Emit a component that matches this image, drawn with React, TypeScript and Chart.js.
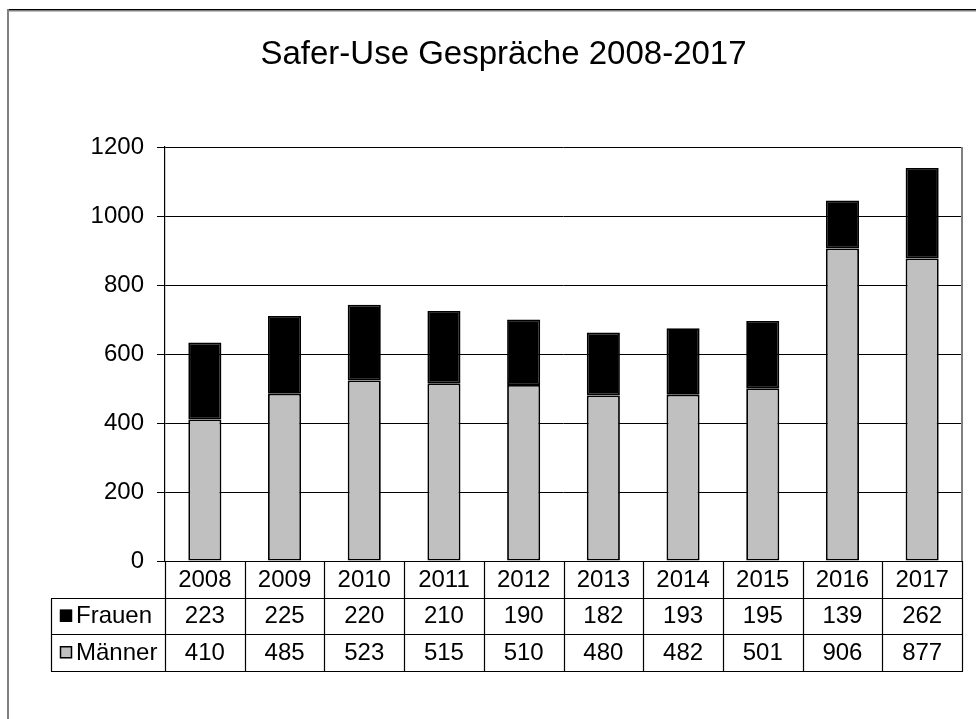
import React, { useEffect, useRef } from 'react';
import { Chart, registerables } from 'chart.js';

Chart.register(...registerables);

const titleText = 'Safer-Use Gespräche 2008-2017';
const years = ['2008', '2009', '2010', '2011', '2012', '2013', '2014', '2015', '2016', '2017'];
const frauen = [223, 225, 220, 210, 190, 182, 193, 195, 139, 262];
const maenner = [410, 485, 523, 515, 510, 480, 482, 501, 906, 877];
const seriesNames = ['Frauen', 'Männer'];
const yMin = 0;
const yMax = 1200;
const yStep = 200;

const FONT = '"Liberation Sans", Arial, Helvetica, sans-serif';
const GRAY = '#c0c0c0';

const framePlugin = {
  id: 'frame',
  beforeDraw(chart: any) {
    const { ctx, width, height } = chart;
    ctx.save();
    ctx.fillStyle = '#ffffff';
    ctx.fillRect(0, 0, width, height);
    ctx.fillStyle = '#000000';
    ctx.fillRect(7, 9, width - 7, 1.5);
    ctx.fillStyle = '#808080';
    ctx.fillRect(7, 10.5, width - 7, 1);
    ctx.fillRect(7, 9, 2, height - 9);
    ctx.restore();
  },
};

const tablePlugin = {
  id: 'dataTable',
  afterDraw(chart: any) {
    const { ctx, chartArea } = chart;
    const left = chartArea.left;
    const right = chartArea.right;
    const top = chartArea.bottom;
    const n = years.length;
    const colW = (right - left) / n;
    const rowH = 36.5;
    const labelLeft = 51;
    ctx.save();
    // right border of plot area
    ctx.strokeStyle = '#808080';
    ctx.lineWidth = 2;
    ctx.beginPath();
    ctx.moveTo(right, chartArea.top);
    ctx.lineTo(right, chartArea.bottom);
    ctx.stroke();

    ctx.strokeStyle = '#000000';
    ctx.lineWidth = 1.2;
    ctx.beginPath();
    ctx.moveTo(left, top + 0.5);
    ctx.lineTo(right + 1, top + 0.5);
    for (let r = 1; r <= 3; r++) {
      const y = Math.round(top + r * rowH) + 0.5;
      ctx.moveTo(labelLeft, y);
      ctx.lineTo(right + 1, y);
    }
    const bottom = Math.round(top + 3 * rowH) + 0.5;
    ctx.moveTo(labelLeft + 0.5, Math.round(top + rowH) + 0.5);
    ctx.lineTo(labelLeft + 0.5, bottom);
    for (let i = 0; i <= n; i++) {
      const x = Math.round(left + i * colW) + 0.5;
      ctx.moveTo(x, top);
      ctx.lineTo(x, bottom);
    }
    ctx.stroke();

    ctx.fillStyle = '#000000';
    ctx.font = `24px ${FONT}`;
    ctx.textAlign = 'center';
    ctx.textBaseline = 'middle';
    const rows = [years, frauen.map(String), maenner.map(String)];
    rows.forEach((row, r) => {
      const cy = top + r * rowH + rowH / 2 + 1;
      row.forEach((v, i) => {
        ctx.fillText(v, left + (i + 0.5) * colW, cy);
      });
    });

    const keyColors = ['#000000', GRAY];
    seriesNames.forEach((name, k) => {
      const cy = top + (k + 1) * rowH + rowH / 2;
      ctx.fillStyle = keyColors[k];
      ctx.fillRect(60, cy - 6, 12, 12);
      ctx.strokeStyle = '#000000';
      ctx.lineWidth = 1.5;
      ctx.strokeRect(60.5, cy - 5.5, 11, 11);
      ctx.fillStyle = '#000000';
      ctx.textAlign = 'left';
      ctx.fillText(name, 76, cy + 1);
    });
    ctx.restore();
  },
};

export default function App() {
  const canvasRef = useRef<HTMLCanvasElement | null>(null);

  useEffect(() => {
    document.body.style.margin = '0';
    const canvas = canvasRef.current;
    if (!canvas) return;
    Chart.defaults.font.family = FONT;
    const chart = new Chart(canvas, {
      type: 'bar',
      data: {
        labels: years,
        datasets: [
          {
            label: seriesNames[1],
            data: maenner,
            backgroundColor: GRAY,
            borderColor: '#000000',
            borderWidth: 1.8,
            borderSkipped: false,
          },
          {
            label: seriesNames[0],
            data: frauen,
            backgroundColor: '#000000',
            borderColor: '#000000',
            borderWidth: 1.8,
            borderSkipped: false,
          },
        ],
      },
      options: {
        animation: false,
        responsive: false,
        devicePixelRatio: 1,
        layout: { padding: { left: 45, right: 14, top: 0, bottom: 0 } },
        datasets: {
          bar: { categoryPercentage: 1, barPercentage: 0.415 },
        },
        plugins: {
          legend: { display: false },
          tooltip: { enabled: false },
          title: {
            display: true,
            text: titleText,
            color: '#000000',
            font: { size: 33, weight: 'normal', family: FONT },
            padding: { top: 35, bottom: 72.4 },
          },
        },
        scales: {
          x: {
            stacked: true,
            grid: { display: false },
            border: { display: false },
            ticks: { display: false },
            afterFit: (s: any) => {
              s.height = 158;
            },
          },
          y: {
            stacked: true,
            min: yMin,
            max: yMax,
            ticks: {
              stepSize: yStep,
              color: '#000000',
              font: { size: 24, family: FONT },
              padding: 13,
              callback: (v: any) => String(v),
            },
            grid: {
              color: '#000000',
              lineWidth: 1,
              tickLength: 8,
              tickColor: '#000000',
            },
            border: { display: true, color: '#000000', width: 1.2 },
            afterFit: (s: any) => {
              s.width = 120;
            },
          },
        },
      },
      plugins: [framePlugin, tablePlugin],
    });
    return () => chart.destroy();
  }, []);

  return (
    <div style={{ width: 976, height: 719 }}>
      <canvas ref={canvasRef} width={976} height={719} style={{ display: 'block' }} />
    </div>
  );
}
